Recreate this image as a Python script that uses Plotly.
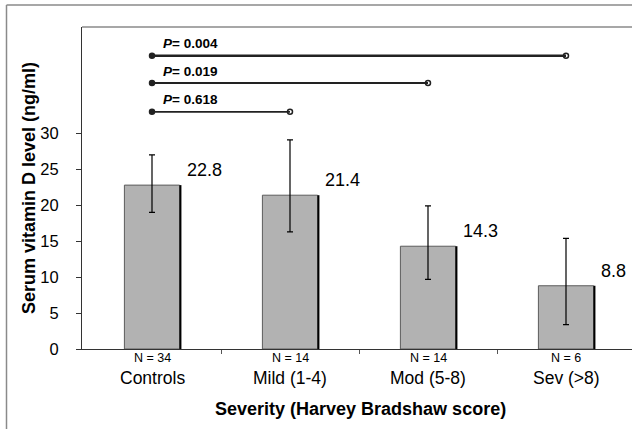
import plotly.graph_objects as go

# ---- data ----
categories = ["Controls", "Mild (1-4)", "Mod (5-8)", "Sev (>8)"]
n_labels = ["N = 34", "N = 14", "N = 14", "N = 6"]
means = [22.8, 21.4, 14.3, 8.8]
err_plus = [4.2, 7.7, 5.6, 6.6]
err_minus = [3.8, 5.1, 4.6, 5.4]

p_texts = ["0.004", "0.019", "0.618"]
p_target = [3, 2, 1]          # compared with Controls (index 0)
p_level = [40.8, 37.0, 33.0]  # y height of comparison bar
p_width = [2.6, 2.0, 1.8]

y_ticks = [0, 5, 10, 15, 20, 25, 30]

FONT = "Liberation Sans, Arial, sans-serif"
W, H = 632, 429
L, R, T, B = 82, 0, 27, 80
xs = list(range(len(categories)))
half = 0.2

fig = go.Figure()

fig.add_trace(go.Bar(
    x=xs, y=means, width=2 * half,
    marker=dict(color="#b2b2b2", line=dict(color="#5c5c5c", width=1)),
    error_y=dict(type="data", symmetric=False, array=err_plus, arrayminus=err_minus,
                 color="#000000", thickness=1.2, width=3),
    showlegend=False, hoverinfo="skip",
))

shapes = []
# dark right edge of each bar (shadow)
for i, v in zip(xs, means):
    shapes.append(dict(type="line", xref="x", yref="y", x0=i + half + 0.006, x1=i + half + 0.006,
                       y0=0, y1=v, line=dict(color="#000000", width=2)))

# comparison lines
annotations = []
for t, lvl, w, txt in zip(p_target, p_level, p_width, p_texts):
    fig.add_trace(go.Scatter(
        x=[0, t], y=[lvl, lvl], mode="lines+markers",
        line=dict(color="#222222", width=w),
        marker=dict(symbol=["circle", "circle-open"], size=5, color="#222222",
                    line=dict(width=1.5, color="#222222")),
        showlegend=False, hoverinfo="skip", cliponaxis=False,
    ))
    annotations.append(dict(x=0, y=lvl, xref="x", yref="y", xanchor="left", yanchor="middle",
                            xshift=9, yshift=12, showarrow=False,
                            text="<b><i>P</i>= " + txt + "</b>",
                            font=dict(family=FONT, size=13.5, color="#000000")))

# value labels
for i, v in zip(xs, means):
    annotations.append(dict(x=i + half, y=v, xref="x", yref="y", xanchor="left", yanchor="middle",
                            xshift=5, yshift=15, showarrow=False, text=f"{v}",
                            font=dict(family=FONT, size=18, color="#000000")))

# category labels
for i, c, n in zip(xs, categories, n_labels):
    annotations.append(dict(x=i, y=0, xref="x", yref="paper", xanchor="center", yanchor="middle",
                            yshift=-9, showarrow=False, text=n,
                            font=dict(family=FONT, size=12.5, color="#000000")))
    annotations.append(dict(x=i, y=0, xref="x", yref="paper", xanchor="center", yanchor="middle",
                            yshift=-29, showarrow=False, text=c,
                            font=dict(family=FONT, size=17.5, color="#000000")))

pw = W - L - R
ph = H - T - B
# axis titles
annotations.append(dict(x=(360 - L) / pw, y=(H - B - 409) / ph, xref="paper", yref="paper",
                        xanchor="center", yanchor="middle", showarrow=False,
                        text="<b>Severity (Harvey Bradshaw score)</b>",
                        font=dict(family=FONT, size=18, color="#000000")))
annotations.append(dict(x=(29 - L) / pw, y=0.5, xref="paper", yref="paper",
                        xanchor="center", yanchor="middle", showarrow=False, textangle=-90,
                        text="<b>Serum vitamin D level (ng/ml)</b>",
                        font=dict(family=FONT, size=18, color="#000000")))

# plot-area top border and outer frame
shapes.append(dict(type="line", xref="paper", yref="paper", x0=0, x1=1.01, y0=1, y1=1,
                   line=dict(color="#8a8a8a", width=1.5)))
fx = (6.5 - L) / pw
fy = (H - B - 5) / ph
shapes.append(dict(type="line", xref="paper", yref="paper", x0=fx, x1=1.01, y0=fy, y1=fy,
                   line=dict(color="#8a8a8a", width=1.5)))
shapes.append(dict(type="line", xref="paper", yref="paper", x0=fx, x1=fx, y0=fy, y1=-0.3,
                   line=dict(color="#8a8a8a", width=1.5)))

x_lo = (L - 152) / 138
x_hi = (W - 152) / 138

fig.update_layout(
    width=W, height=H,
    margin=dict(l=L, r=R, t=T, b=B, pad=0),
    paper_bgcolor="#ffffff", plot_bgcolor="#ffffff",
    font=dict(family=FONT, size=16, color="#000000"),
    shapes=shapes, annotations=annotations,
    xaxis=dict(range=[x_lo, x_hi], tickvals=[0.5, 1.5, 2.5], ticktext=["", "", ""],
               ticks="outside", ticklen=4, tickcolor="#555555", tickwidth=1,
               showline=True, linecolor="#333333", linewidth=1,
               showgrid=False, zeroline=False, fixedrange=True),
    yaxis=dict(range=[0, 44.8], tickvals=y_ticks, ticks="outside", ticklen=5,
               tickcolor="#333333", tickwidth=1, showline=True, linecolor="#333333",
               linewidth=1, showgrid=False, zeroline=False,
               tickfont=dict(family=FONT, size=16.5, color="#000000"), ticklabelstandoff=14),
    bargap=0,
)

fig.write_html("out.html",
               config={"displayModeBar": False, "staticPlot": True},
               post_script="document.body.style.margin='0';document.body.style.padding='0';"
                           "document.body.style.overflow='hidden';")
